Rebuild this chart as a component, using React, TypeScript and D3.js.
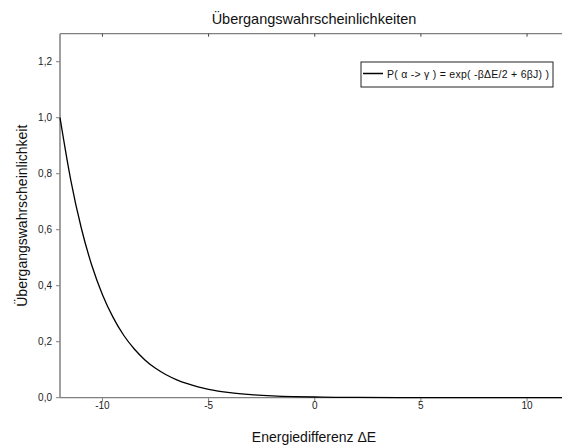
import React from 'react';
import * as d3 from 'd3';

// values
const deltaE = [-12, -11.5, -11, -10.5, -10, -9.5, -9, -8.5, -8, -7.5, -7, -6.5, -6, -5.5, -5, -4, -3, -2, -1, 0, 1, 2, 4, 6, 8, 10, 12];
const prob = [1.0, 0.78, 0.607, 0.472, 0.368, 0.287, 0.223, 0.174, 0.135, 0.105, 0.082, 0.064, 0.05, 0.039, 0.03, 0.018, 0.011, 0.0067, 0.004, 0.0025, 0.0015, 0.0009, 0.0003, 0.0001, 0, 0, 0];
const xTicks = [-10, -5, 0, 5, 10];
const yTicks = [0, 0.2, 0.4, 0.6, 0.8, 1.0, 1.2];

const title = 'Übergangswahrscheinlichkeiten';
const xLabel = 'Energiedifferenz ΔE';
const yLabel = 'Übergangswahrscheinlichkeit';
const legendLabel = 'P( α -> γ ) = exp( -βΔE/2 + 6βJ) )';

const W = 562, H = 447;
const font = 'Liberation Sans, Arial, sans-serif';
const axisColor = '#808080';

export default function App() {
  const x = d3.scaleLinear().domain([-12, 12]).range([60, 569.5]);
  const y = d3.scaleLinear().domain([0, 1.3]).range([397.7, 33.7]);
  const fmt = (v: number) => d3.format('.1f')(v).replace('.', ',');

  const line = d3.line<number>()
    .x((_, i) => x(deltaE[i]))
    .y(d => y(d))
    .curve(d3.curveMonotoneX);

  const x0 = x(-12), x1 = W;
  const yTop = y(1.3), yBot = y(0);

  return (
    <svg width={W} height={H} style={{position: 'absolute', left: 0, top: 0, background: '#fff'}} fontFamily={font}>
      <text x={314} y={24} textAnchor="middle" fontSize={14.5} fill="#111">{title}</text>

      {/* frame */}
      <line x1={x0} x2={x1} y1={yTop} y2={yTop} stroke={axisColor} strokeWidth={1.2} />
      <line x1={x0} x2={x0} y1={yTop} y2={yBot} stroke={axisColor} strokeWidth={1.5} />
      <line x1={x0} x2={x1} y1={yBot} y2={yBot} stroke={axisColor} strokeWidth={1.2} />

      {yTicks.map(t => (
        <g key={t}>
          <line x1={x0 - 4} x2={x0} y1={y(t)} y2={y(t)} stroke={axisColor} strokeWidth={1} />
          <text x={x0 - 8} y={y(t) + 3.5} textAnchor="end" fontSize={10} fill="#222">{fmt(t)}</text>
        </g>
      ))}

      {xTicks.map(t => (
        <g key={t}>
          <line x1={x(t)} x2={x(t)} y1={yBot} y2={yBot + 4} stroke={axisColor} strokeWidth={1} />
          <line x1={x(t)} x2={x(t)} y1={yTop} y2={yTop + 3} stroke="#444" strokeWidth={1} />
          <text x={x(t)} y={yBot + 11.5} textAnchor="middle" fontSize={10} fill="#222">{t}</text>
        </g>
      ))}

      <text x={314} y={442} textAnchor="middle" fontSize={14} fill="#111">{xLabel}</text>
      <text transform={`translate(27,${(yTop + yBot) / 2}) rotate(-90)`} textAnchor="middle" fontSize={14} fill="#111">{yLabel}</text>

      <path d={line(prob) || ''} fill="none" stroke="#000" strokeWidth={1.3} />

      {/* legend */}
      <rect x={361} y={62} width={192} height={25} fill="#fff" stroke="#222" strokeWidth={1} />
      <line x1={363} x2={383} y1={73.5} y2={73.5} stroke="#000" strokeWidth={1.5} />
      <text x={387} y={77.5} fontSize={10.5} fill="#111" textLength={162} lengthAdjust="spacing">{legendLabel}</text>
    </svg>
  );
}
